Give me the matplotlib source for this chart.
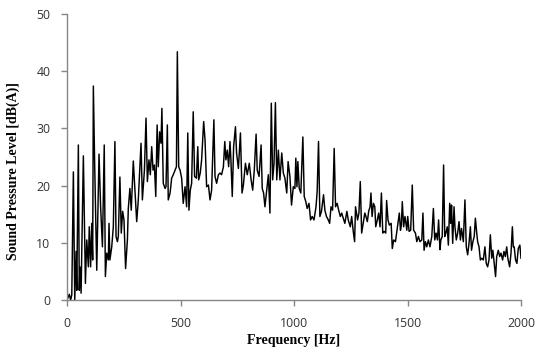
import matplotlib
matplotlib.use("Agg")
import matplotlib.pyplot as plt

# spectrum (Hz, dB(A))
freq = [0, 10, 16, 21, 28, 34, 40, 43, 50, 54, 57, 62, 72, 81, 87, 94, 98, 104, 109, 113,
        116, 122, 131, 141, 148, 156, 164, 169, 175, 182, 185, 189, 197, 204, 211, 216, 222,
        226, 233, 239, 245, 251, 258, 266, 270, 277, 283, 292,
        300, 307, 314, 326, 332, 341, 348, 354, 361, 367, 373, 379, 385, 391, 397, 402, 408,
        414, 418, 424, 432, 436, 442, 446, 454, 461, 468, 476, 482, 486, 492, 498, 505, 512,
        520, 527, 532, 537, 543, 549, 556, 562, 570, 576, 580, 587, 593, 602, 608, 615, 623,
        630, 637, 647, 652,
        659, 667, 674, 681, 689, 695, 700, 706, 712, 718, 722, 728, 734, 742, 747, 755, 764,
        771, 777, 786, 794, 803, 811, 818, 825, 833, 838, 846, 855, 860, 866, 872, 880, 887,
        894, 900, 906, 912, 918, 924, 931, 938, 946, 953, 960, 968, 974, 982,
        989, 997, 1004, 1008, 1013, 1017, 1023, 1030, 1039, 1045, 1052, 1058, 1066, 1073,
        1080, 1088, 1097, 1102, 1108, 1114, 1121, 1130, 1136, 1143, 1151, 1157, 1163, 1170,
        1177, 1183, 1190, 1198, 1204, 1210, 1217, 1224, 1233, 1239, 1248, 1254, 1261, 1267,
        1271, 1280, 1286, 1292, 1298, 1305, 1312,
        1317, 1323, 1329, 1335, 1339, 1344, 1350, 1356, 1360, 1367, 1373, 1379, 1385, 1391,
        1397, 1404, 1408, 1414, 1420, 1428, 1433, 1439, 1447, 1452, 1458, 1464, 1469, 1473,
        1477, 1483, 1489, 1497, 1501, 1507, 1514, 1521, 1527, 1535, 1541, 1548, 1555, 1563,
        1568, 1573, 1579, 1585, 1592, 1599, 1607, 1614, 1620, 1626, 1632, 1637, 1643,
        1647, 1653, 1659, 1664, 1669, 1675, 1680, 1686, 1690, 1694, 1699, 1705, 1709, 1715,
        1721, 1727, 1733, 1738, 1746, 1753, 1759, 1765, 1771, 1777, 1782, 1788, 1794, 1799,
        1805, 1809, 1815, 1821, 1827, 1834, 1841, 1847, 1853, 1859, 1865, 1871, 1876, 1882,
        1888, 1893, 1900, 1906, 1912, 1919, 1925, 1931, 1937, 1942, 1950, 1956, 1962, 1966,
        1970, 1976, 1982, 1988, 1995, 2000]
spl = [0.0, 1.0, 0.0, 0.9, 22.4, 0.0, 8.5, 1.7, 27.1, 1.7, 5.8, 1.2, 25.2, 2.9, 10.5, 5.8,
       12.8, 5.8, 13.4, 7.0, 37.4, 23.3, 5.2, 25.5, 16.3, 9.3, 27.1, 4.1, 8.2, 7.0, 13.4,
       7.0, 9.3, 12.8, 27.7, 11.1, 10.2, 11.1, 21.5, 11.7, 15.5, 14.0, 5.5, 10.5, 16.0,
       19.5, 15.7, 24.3,
       18.7, 13.7, 17.5, 27.4, 17.5, 22.7, 31.8, 20.7, 24.5, 21.9, 26.8, 22.7, 23.6, 18.1,
       30.6, 23.3, 29.4, 27.4, 33.5, 20.4, 19.5, 19.8, 30.6, 17.5, 18.7, 21.3, 21.9, 22.7,
       23.3, 43.4, 23.3, 22.7, 21.3, 16.9, 19.8, 16.3, 29.2, 15.7, 19.2, 20.4, 32.9, 21.6,
       21.3, 26.8, 21.0, 22.2, 24.5, 31.2, 28.0, 19.8, 20.1, 17.5, 19.2, 31.5, 21.6,
       20.4, 21.9, 22.2, 21.9, 23.3, 27.7, 24.5, 26.2, 23.3, 27.7, 24.5, 18.1, 26.8, 30.3,
       25.7, 23.0, 29.2, 18.7, 20.1, 23.9, 21.9, 23.9, 21.0, 19.2, 22.7, 29.0, 22.7, 21.6,
       27.1, 19.5, 18.7, 16.3, 19.2, 21.9, 15.2, 34.4, 21.0, 23.9, 34.5, 21.0, 26.2, 21.0,
       25.7, 22.2, 21.3, 18.7, 24.2, 21.6,
       16.6, 19.8, 19.5, 24.8, 19.8, 24.2, 19.5, 18.7, 28.5, 18.1, 17.2, 16.0, 16.9, 14.0,
       14.6, 14.0, 16.3, 19.0, 27.7, 14.6, 15.5, 18.4, 15.7, 14.6, 14.0, 13.4, 16.3, 15.7,
       26.5, 16.3, 16.9, 15.5, 14.6, 15.2, 14.3, 13.4, 15.5, 14.0, 12.8, 14.6, 12.0, 10.2,
       16.3, 14.0, 15.2, 20.7, 11.7, 13.4, 15.2,
       14.6, 13.7, 15.5, 16.3, 18.7, 14.6, 16.9, 16.3, 12.8, 14.0, 15.2, 12.8, 18.7, 11.7,
       12.0, 11.7, 17.4, 14.0, 13.1, 13.4, 9.0, 10.5, 10.2, 11.7, 13.4, 15.2, 12.2, 13.1,
       17.2, 12.8, 14.6, 12.2, 14.6, 12.0, 12.2, 20.1, 12.2, 11.7, 10.2, 11.1, 10.2, 10.5,
       15.2, 8.7, 10.2, 9.3, 10.5, 9.3, 11.1, 16.0, 10.5, 11.7, 10.5, 14.0, 8.8,
       10.5, 11.1, 23.6, 11.1, 11.7, 12.8, 9.6, 16.9, 13.4, 16.6, 9.9, 16.3, 12.8, 10.5,
       11.7, 13.7, 10.5, 12.5, 10.2, 17.5, 9.3, 7.9, 9.9, 12.8, 8.7, 10.2, 11.1, 14.3,
       11.7, 10.2, 9.3, 7.0, 7.3, 7.0, 9.3, 6.4, 5.8, 7.0, 11.4, 7.3, 8.7, 6.4,
       4.1, 7.6, 8.7, 7.6, 8.2, 7.0, 8.5, 7.6, 9.3, 7.3, 5.8, 8.2, 12.8, 9.3,
       9.3, 7.0, 6.4, 9.0, 9.6, 7.3]

xticks = [0, 500, 1000, 1500, 2000]
yticks = [0, 10, 20, 30, 40, 50]

fig = plt.figure(figsize=(5.37, 3.54), dpi=100)
ax = fig.add_axes([0.1248, 0.1525, 0.8454, 0.808])

ax.plot(freq, spl, color='black', lw=1.05)

ax.set_xlim(0, 2000)
ax.set_ylim(0, 50)
ax.set_xticks(xticks)
ax.set_yticks(yticks)

for s in ['top', 'right']:
    ax.spines[s].set_visible(False)
for s in ['left', 'bottom']:
    ax.spines[s].set_color('#868686')
    ax.spines[s].set_linewidth(1.0)
ax.tick_params(direction='out', length=4, width=1.0, color='#868686',
               labelcolor='#333333', labelsize=8.8)
ax.tick_params(axis='y', pad=8)
ax.tick_params(axis='x', pad=8)
for lab in ax.get_xticklabels() + ax.get_yticklabels():
    lab.set_family('Open Sans')

ax.set_xlabel('Frequency [Hz]', family='Liberation Serif', fontweight='bold',
              fontsize=10, labelpad=3)
ax.set_ylabel('Sound Pressure Level [dB(A)]', family='Liberation Serif',
              fontweight='bold', fontsize=10)
ax.yaxis.set_label_coords(-0.104, 0.45)

fig.savefig('out.png', dpi=100)
